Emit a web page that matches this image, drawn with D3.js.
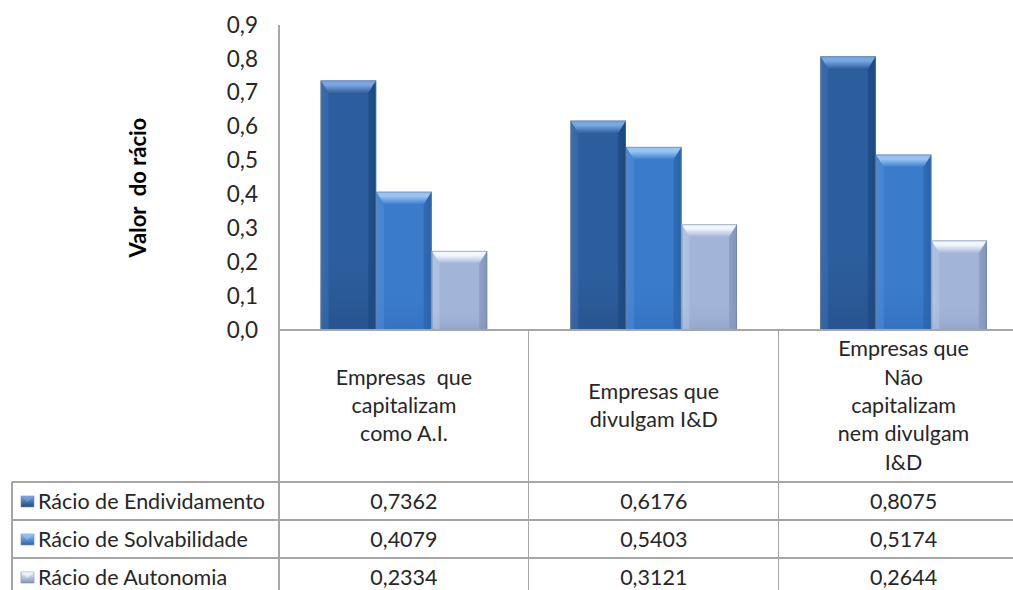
<!DOCTYPE html>
<html>
<head>
<meta charset="utf-8">
<script src="https://cdn.jsdelivr.net/npm/d3@7"></script>
<style>
html,body{margin:0;padding:0;background:#fff;overflow:hidden;}
svg{display:block;font-family:Lato,"Open Sans",sans-serif;}
</style>
</head>
<body>
<svg id="chart" width="1013" height="590"></svg>
<script>
// ---- data ----
const categories = ["Empresas  que capitalizam como A.I.", "Empresas que divulgam I&D", "Empresas que Não capitalizam nem divulgam I&D"];
const categoryLines = [
  ["Empresas  que", "capitalizam", "como A.I."],
  ["Empresas que", "divulgam I&D"],
  ["Empresas que", "Não", "capitalizam", "nem divulgam", "I&D"]
];
const seriesNames = ["Rácio de Endividamento", "Rácio de Solvabilidade", "Rácio de Autonomia"];
const endividamento = [0.7362, 0.6176, 0.8075];
const solvabilidade = [0.4079, 0.5403, 0.5174];
const autonomia = [0.2334, 0.3121, 0.2644];
const yTicks = [0, 0.1, 0.2, 0.3, 0.4, 0.5, 0.6, 0.7, 0.8, 0.9];
const yTitle = "Valor  do rácio";

const seriesValues = [endividamento, solvabilidade, autonomia];

// ---- styles ----
const palettes = [
  {base:"#2c5d9c", light:"#79a7e2", left:"#3a6db0", right:"#1d477e", bottom:"#244c85"},
  {base:"#3a7bcb", light:"#98c4f5", left:"#4a8ad8", right:"#2a62a8", bottom:"#2f6cb8"},
  {base:"#a2b4d8", light:"#f2f7fd", left:"#b3c4e4", right:"#8294ba", bottom:"#8a9cc2"}
];
const gridColor = "#a6a6a6";
const textColor = "#262626";
const fs = 21.5;

const svg = d3.select("#chart");
const defs = svg.append("defs");

palettes.forEach((p, i) => {
  const gh = defs.append("linearGradient").attr("id", "gh" + i).attr("x1", 0).attr("x2", 1).attr("y1", 0).attr("y2", 0);
  gh.append("stop").attr("offset", "0").attr("stop-color", p.left);
  gh.append("stop").attr("offset", "0.15").attr("stop-color", p.base);
  gh.append("stop").attr("offset", "0.85").attr("stop-color", p.base);
  gh.append("stop").attr("offset", "1").attr("stop-color", p.right);
  const gt = defs.append("linearGradient").attr("id", "gt" + i).attr("x1", 0).attr("x2", 0).attr("y1", 0).attr("y2", 1);
  gt.append("stop").attr("offset", "0").attr("stop-color", p.light);
  gt.append("stop").attr("offset", "0.35").attr("stop-color", p.light);
  gt.append("stop").attr("offset", "1").attr("stop-color", p.base);
  const gv = defs.append("linearGradient").attr("id", "gv" + i).attr("x1", 0).attr("x2", 0).attr("y1", 0).attr("y2", 1);
  gv.append("stop").attr("offset", "0").attr("stop-color", p.base).attr("stop-opacity", 0);
  gv.append("stop").attr("offset", "0.7").attr("stop-color", p.base).attr("stop-opacity", 0);
  gv.append("stop").attr("offset", "1").attr("stop-color", p.bottom).attr("stop-opacity", 0.6);
  const gl = defs.append("linearGradient").attr("id", "gl" + i).attr("x1", 0).attr("x2", 0).attr("y1", 0).attr("y2", 1);
  gl.append("stop").attr("offset", "0").attr("stop-color", p.light);
  gl.append("stop").attr("offset", "1").attr("stop-color", p.right);
});

// ---- scales ----
const x = d3.scaleBand().domain(categories).range([279, 1028.5]).paddingInner(0).paddingOuter(0);
const xs = d3.scaleBand().domain(seriesNames).range([0, x.bandwidth()]).paddingInner(0).paddingOuter(0.75);
const y = d3.scaleLinear().domain([0, 0.9]).range([330, 25]);

const fmt = v => d3.format(".1f")(v).replace(".", ",");
const fmt4 = v => d3.format(".4f")(v).replace(".", ",");

// ---- y axis ----
const yAxis = d3.axisLeft(y).tickValues(yTicks).tickFormat(fmt).tickSize(0).tickPadding(21);
const ya = svg.append("g").attr("transform", "translate(279,0)").call(yAxis);
ya.select(".domain").remove();
ya.selectAll("text").attr("font-size", 22.5).attr("fill", textColor).attr("font-family", "Lato");

svg.append("text")
  .attr("transform", `translate(146,${y(0.42)}) rotate(-90)`)
  .attr("text-anchor", "middle")
  .attr("font-weight", "bold")
  .attr("font-size", 22)
  .attr("fill", "#000")
  .attr("xml:space", "preserve")
  .style("white-space", "pre")
  .text(yTitle);

// ---- bars ----
const tableTop = y(0);
const bev = 8;
seriesNames.forEach((s, si) => {
  const g = svg.append("g");
  categories.forEach((c, ci) => {
    const v = seriesValues[si][ci];
    const x0 = x(c) + xs(s), w = xs.bandwidth();
    const y0 = y(v), y1 = y(0), h = y1 - y0;
    const b = Math.min(bev, h / 2);
    g.append("rect").attr("x", x0).attr("y", y0).attr("width", w).attr("height", h)
      .attr("fill", `url(#gh${si})`);
    g.append("rect").attr("x", x0).attr("y", y0).attr("width", w).attr("height", h)
      .attr("fill", `url(#gv${si})`);
    // top bevel
    g.append("path")
      .attr("d", `M${x0},${y0}L${x0 + w},${y0}L${x0 + w - b},${y0 + b * 1.6}L${x0 + b},${y0 + b * 1.6}Z`)
      .attr("fill", `url(#gt${si})`);
    // left bevel
    g.append("path")
      .attr("d", `M${x0},${y0}L${x0 + b},${y0 + b * 1.6}L${x0 + b},${y1}L${x0},${y1}Z`)
      .attr("fill", palettes[si].left).attr("opacity", 0.55);
    // right bevel
    g.append("path")
      .attr("d", `M${x0 + w},${y0}L${x0 + w - b},${y0 + b * 1.6}L${x0 + w - b},${y1}L${x0 + w},${y1}Z`)
      .attr("fill", palettes[si].right).attr("opacity", 0.6);
    g.append("rect").attr("x", x0 + 0.5).attr("y", y0 + 0.5).attr("width", w - 1).attr("height", h - 1)
      .attr("fill", "none").attr("stroke", "#6b7c94").attr("stroke-opacity", 0.55).attr("stroke-width", 1);
  });
});

// ---- table / grid lines ----
const rowTop = 482, rowH = 38;
const lines = svg.append("g").attr("stroke", gridColor).attr("stroke-width", 1.3).attr("shape-rendering", "crispEdges");
lines.append("line").attr("x1", 279).attr("x2", 279).attr("y1", y(0.9)).attr("y2", 590);
lines.append("line").attr("x1", 279).attr("x2", 1013).attr("y1", tableTop).attr("y2", tableTop);
categories.slice(1).forEach(c => {
  lines.append("line").attr("x1", x(c)).attr("x2", x(c)).attr("y1", tableTop).attr("y2", 590);
});
lines.append("line").attr("x1", 12).attr("x2", 12).attr("y1", rowTop).attr("y2", 590);
seriesNames.forEach((s, i) => {
  lines.append("line").attr("x1", 12).attr("x2", 1013).attr("y1", rowTop + i * rowH).attr("y2", rowTop + i * rowH);
});

// ---- header text ----
categories.forEach((c, ci) => {
  const ls = categoryLines[ci];
  const cx = x(c) + x.bandwidth() / 2;
  const midY = (tableTop + rowTop) / 2;
  const lh = 28.3;
  const t = svg.append("text").attr("text-anchor", "middle").attr("font-size", fs).attr("fill", textColor)
    .attr("xml:space", "preserve").style("white-space", "pre");
  ls.forEach((l, li) => {
    t.append("tspan").attr("x", cx)
      .attr("y", midY + (li - (ls.length - 1) / 2) * lh + 7)
      .text(l);
  });
});

// ---- rows ----
seriesNames.forEach((s, si) => {
  const cy = rowTop + si * rowH + rowH / 2;
  const p = palettes[si];
  svg.append("rect").attr("x", 21).attr("y", cy - 5).attr("width", 13).attr("height", 11)
    .attr("fill", `url(#gl${si})`).attr("stroke", "#7f8ca0").attr("stroke-width", 0.6);
  svg.append("path").attr("d", `M21,${cy - 5}L27.5,${cy + 1}L34,${cy - 5}Z`).attr("fill", p.light).attr("opacity", 0.6);
  svg.append("text").attr("x", 38).attr("y", cy + 7.5).attr("font-size", fs).attr("fill", textColor).text(s);
  categories.forEach((c, ci) => {
    svg.append("text").attr("x", x(c) + x.bandwidth() / 2).attr("y", cy + 7.5)
      .attr("text-anchor", "middle").attr("font-size", fs).attr("fill", textColor)
      .text(fmt4(seriesValues[si][ci]));
  });
});
</script>
</body>
</html>
